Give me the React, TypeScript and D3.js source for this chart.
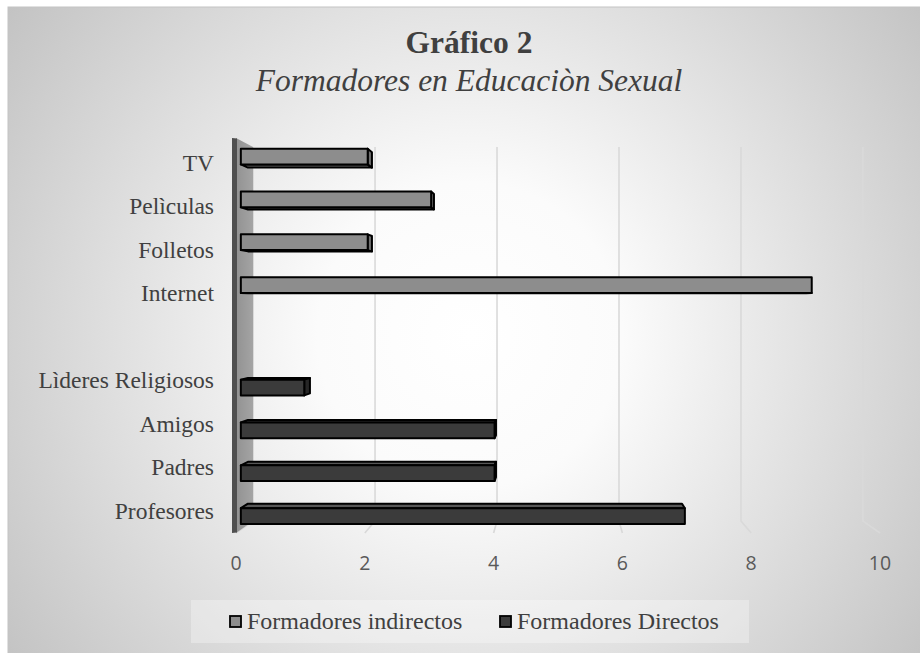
import React from "react";
import * as d3 from "d3";

const categories = ["TV", "Pelìculas", "Folletos", "Internet", " ", "Lìderes Religiosos", "Amigos", "Padres", "Profesores"];
const seriesNames = ["Formadores indirectos", "Formadores Directos"];
const indirectos: (number | null)[] = [2, 3, 2, 9, null, null, null, null, null];
const directos: (number | null)[] = [null, null, null, null, null, 1, 4, 4, 7];
const xTicks = [0, 2, 4, 6, 8, 10];
const titleText = "Gráfico 2";
const subtitleText = "Formadores en Educaciòn Sexual";

const W = 920;
const H = 653;
const VP = { x: 558, y: 307 };
const K_BACK = 0.947;
const K_BAR_F = 0.985;
const K_BAR_B = 0.963;
const PLOT_TOP = 138;
const PLOT_BOTTOM = 533;

const proj = (xf: number, yf: number, k: number): [number, number] => [
  VP.x + k * (xf - VP.x),
  VP.y + k * (yf - VP.y),
];
const pts = (arr: [number, number][]) => arr.map((p) => p.join(",")).join(" ");

const serif = "'Liberation Serif', 'Times New Roman', serif";

export default function App() {
  const xFront = d3.scaleLinear().domain([0, 10]).range([236, 880]);
  const yBand = d3.scaleBand<string>().domain(categories).range([141, 532.5]);
  const inner = d3
    .scaleBand<string>()
    .domain(seriesNames)
    .range([0, yBand.bandwidth()])
    .paddingOuter(0.28);

  const colors: Record<string, { front: string; top: string; side: string; bottom: string }> = {
    "Formadores indirectos": { front: "#8d8d8d", top: "#a8a8a8", side: "#6e6e6e", bottom: "#6a6a6a" },
    "Formadores Directos": { front: "#3b3b3b", top: "#575757", side: "#262626", bottom: "#222222" },
  };

  const bars: { key: string; faces: { p: string; fill: string }[] }[] = [];
  const seriesData: [string, (number | null)[]][] = [
    ["Formadores indirectos", indirectos],
    ["Formadores Directos", directos],
  ];
  seriesData.forEach(([s, vals]) => {
    vals.forEach((v, i) => {
      if (v == null) return;
      const cat = categories[i];
      const y0 = (yBand(cat) as number) + (inner(s) as number) + 0.5;
      const y1 = y0 + inner.bandwidth() - 1;
      const x0 = xFront(0);
      const x1 = xFront(v);
      const Af = proj(x0, y0, K_BAR_F), Bf = proj(x1, y0, K_BAR_F), Cf = proj(x1, y1, K_BAR_F), Df = proj(x0, y1, K_BAR_F);
      const Ab = proj(x0, y0, K_BAR_B), Bb = proj(x1, y0, K_BAR_B), Cb = proj(x1, y1, K_BAR_B), Db = proj(x0, y1, K_BAR_B);
      const c = colors[s];
      const faces: { p: string; fill: string }[] = [];
      if (y0 > VP.y) faces.push({ p: pts([Af, Bf, Bb, Ab]), fill: c.top });
      if (y1 < VP.y) faces.push({ p: pts([Df, Cf, Cb, Db]), fill: c.bottom });
      if (x1 < VP.x) faces.push({ p: pts([Bf, Cf, Cb, Bb]), fill: c.side });
      faces.push({ p: pts([Af, Bf, Cf, Df]), fill: c.front });
      bars.push({ key: s + i, faces });
    });
  });

  const wall = [
    proj(xFront(0), PLOT_TOP, 1),
    proj(xFront(0), PLOT_TOP, K_BACK),
    proj(xFront(0), PLOT_BOTTOM, K_BACK),
    proj(xFront(0), PLOT_BOTTOM, 1),
  ] as [number, number][];

  return (
    <svg
      width={W}
      height={H}
      style={{ position: "absolute", left: 0, top: 0, background: "#ffffff" }}
      xmlns="http://www.w3.org/2000/svg"
    >
      <defs>
        <radialGradient id="bg" gradientUnits="userSpaceOnUse" cx={470} cy={335} r={610}>
          <stop offset="0" stopColor="#ffffff" />
          <stop offset="0.25" stopColor="#fbfbfb" />
          <stop offset="1" stopColor="#bdbdbd" />
        </radialGradient>
        <linearGradient id="wallg" x1="0" x2="1" y1="0" y2="0">
          <stop offset="0" stopColor="#929292" />
          <stop offset="1" stopColor="#a4a4a4" />
        </linearGradient>
      </defs>
      <rect x={8} y={7} width={W} height={H} fill="url(#bg)" stroke="#c4c4c4" strokeWidth={1} />

      <text x={469} y={53} textAnchor="middle" fontFamily={serif} fontWeight="bold" fontSize={31.5} fill="#404040">
        {titleText}
      </text>
      <text x={469} y={91} textAnchor="middle" fontFamily={serif} fontStyle="italic" fontSize={31.5} fill="#404040">
        {subtitleText}
      </text>

      {/* gridlines */}
      {xTicks.map((t) => {
        const a = proj(xFront(t), PLOT_TOP, K_BACK);
        const b = proj(xFront(t), PLOT_BOTTOM, K_BACK);
        const c = proj(xFront(t), PLOT_BOTTOM, 1);
        return (
          <polyline key={t} points={pts([a, b, c])} fill="none" stroke="#d9d9d9" strokeWidth={1.6} />
        );
      })}

      {/* wall */}
      <polygon points={pts(wall)} fill="url(#wallg)" />
      <polygon
        points={pts([
          [xFront(0) - 4, PLOT_TOP],
          [xFront(0) + 1, PLOT_TOP + 0.5],
          [xFront(0) + 1, PLOT_BOTTOM - 0.5],
          [xFront(0) - 4, PLOT_BOTTOM],
        ])}
        fill="#4f4f4f"
      />

      {/* bars */}
      {bars.map((b) => (
        <g key={b.key}>
          {b.faces.map((f, j) => (
            <polygon key={j} points={f.p} fill={f.fill} stroke="#000" strokeWidth={2} strokeLinejoin="round" />
          ))}
        </g>
      ))}

      {/* category labels */}
      {categories.map((c) => (
        <text
          key={c}
          x={214}
          y={(yBand(c) as number) + yBand.bandwidth() / 2}
          dy="0.35em"
          textAnchor="end"
          fontFamily={serif}
          fontSize={23.5}
          fill="#404040"
        >
          {c.trim()}
        </text>
      ))}

      {/* tick labels */}
      {xTicks.map((t) => (
        <text
          key={t}
          x={xFront(t)}
          y={563}
          dy="0.36em"
          textAnchor="middle"
          fontFamily="'Open Sans', sans-serif"
          fontSize={19.5}
          fill="#595959"
        >
          {t}
        </text>
      ))}

      {/* legend */}
      <rect x={191} y={600} width={558} height={43} fill="#ffffff" fillOpacity={0.3} />
      {seriesNames.map((s, i) => {
        const lx = i === 0 ? 230 : 500;
        return (
          <g key={s}>
            <rect x={lx} y={616} width={11} height={11} fill={colors[s].front} stroke="#000" strokeWidth={1.8} />
            <text x={lx + 17} y={629} fontFamily={serif} fontSize={24} fill="#404040">
              {s}
            </text>
          </g>
        );
      })}
    </svg>
  );
}
